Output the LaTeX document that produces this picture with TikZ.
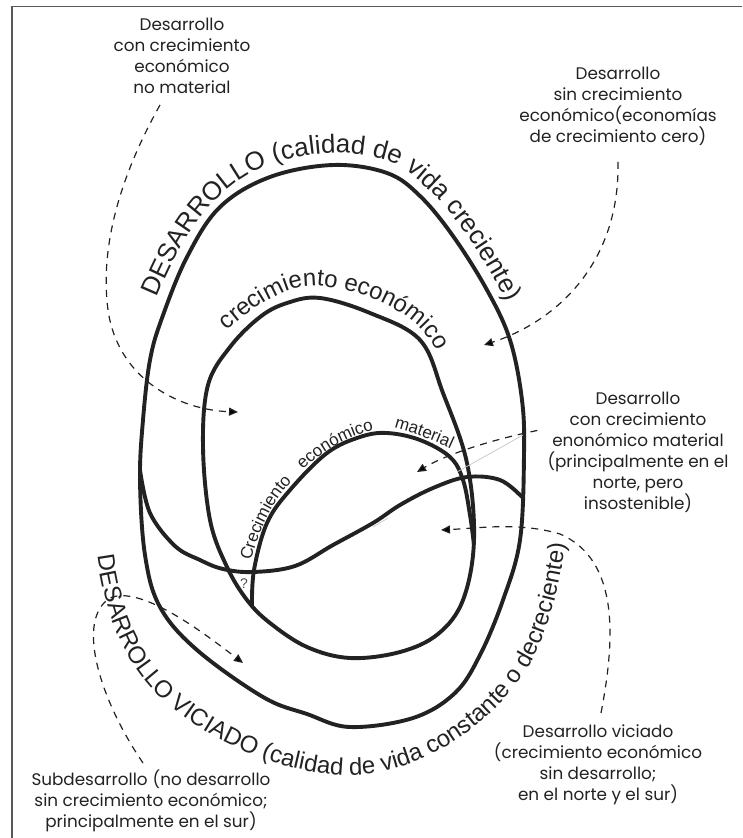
\documentclass[tikz,border=0pt]{standalone}
\usepackage{fontspec}
\usepackage{tikz}
\usetikzlibrary{positioning, arrows.meta, decorations.text}
\setmainfont{Liberation Sans}
\newfontfamily\gothic{Poppins}
\definecolor{ink}{HTML}{222222}

\begin{document}
\begin{tikzpicture}[x=1pt, y=-1pt,
    egg/.style={draw=ink, line width=3.9pt},
    note/.style={align=center, inner sep=0pt, text=ink, font=\gothic\fontsize{16.8}{21}\selectfont},
    leader/.style={draw=ink, line width=1.2pt, dash pattern=on 7pt off 6pt, -{Triangle[length=9pt, width=8pt]}},
    curved/.style={decorate, decoration={text along path, text color=ink, text align=center, text={#1}}},
    curvedleft/.style={decorate, decoration={text along path, text color=ink, text={#1}}}]
    \useasboundingbox (0,0) rectangle (742,838);
    \draw[gray!70!black, line width=1.5pt] (12,838) -- (12,6.5) -- (742,6.5);

    % outer egg, middle egg, inner egg and the dividing curve
    \draw[egg] plot[smooth cycle, tension=0.6] coordinates {(333,165) (387,173) (420,196) (453,236) (487,290) (510,340) (522,400) (524,455) (520,540) (503,600) (480,655) (455,693) (413,718) (350,727) (307,714) (263,697) (197,650) (160,607) (145,555) (140,480) (143,420) (150,360) (162,318) (187,257) (220,207) (270,177)};
    \draw[egg] plot[smooth cycle, tension=0.6] coordinates {(320,298) (370,313) (420,340) (443,393) (467,463) (474,540) (463,600) (438,634) (400,652) (350,658) (307,647) (270,623) (247,600) (227,567) (210,520) (203,447) (208,385) (230,347) (260,317) (287,303)};
    \draw[egg] plot[smooth, tension=0.6] coordinates {(252,607) (254,570) (267,523) (290,490) (327,453) (360,437) (387,433) (420,440) (450,457) (463,480) (470,515) (474,545)};
    \draw[egg] plot[smooth, tension=0.6] coordinates {(140,470) (150,513) (175,546) (200,560) (223,569) (253,572) (295,566) (333,545) (373,523) (400,505) (433,488) (467,477) (500,480) (522,497)};
    \draw[gray!45, line width=0.7pt] (373,527) -- (388,518);
    \draw[gray!45, line width=0.7pt] (457,472) -- (523,435);
    \node[text=ink!80, font=\fontsize{14}{14}\selectfont] (qm) at (244,584) {?};

    \path[curved={|\fontsize{26}{30}\selectfont|DESARROLLO (calidad de vida creciente)}]
        (156,300) .. controls (179,245) and (210,187) .. (266,166)
        .. controls (305,151) and (351,148) .. (391,162)
        .. controls (428,177) and (478,242) .. (508,305);
    \path[curved={|\fontsize{24}{30}\selectfont|crecimiento económico}]
        (224,333) .. controls (251,310) and (285,282) .. (321,286)
        .. controls (366,291) and (422,313) .. (438,355);
    \path[curvedleft={|\fontsize{17}{20}\selectfont|Crecimiento}]
        (251,561) .. controls (259,531) and (272,501) .. (294,479);
    \path[curvedleft={|\fontsize{17}{20}\selectfont|económico}]
        (303,470) .. controls (325,448) and (356,432) .. (387,428);
    \path[curvedleft={|\fontsize{17}{20}\selectfont|material}]
        (394,428) .. controls (416,434) and (437,442) .. (458,452);
    \path[curved={|\fontsize{24}{30}\selectfont|DESARROLLO VICIADO (calidad de vida constante o decreciente)}]
        (96,545) .. controls (104,614) and (124,672) .. (180,714)
        .. controls (227,749) and (286,773) .. (345,775)
        .. controls (405,777) and (468,741) .. (508,695)
        .. controls (546,652) and (561,590) .. (566,533);

    \node[note, anchor=north] (nm) at (182,18) {Desarrollo\\con crecimiento\\económico\\no material};
    \node[note, anchor=north] (sc) at (618,67) {Desarrollo\\sin crecimiento\\económico(economías\\de crecimiento cero)};
    \node[note, anchor=north] (cm) at (638,392) {Desarrollo\\con crecimiento\\enonómico material\\(principalmente en el\\norte, pero\\insostenible)};
    \node[note, anchor=north] (dv) at (598,725) {Desarrollo viciado\\(crecimiento económico\\sin desarrollo;\\en el norte y el sur)};
    \node[note, anchor=north] (sd) at (151,770) {Subdesarrollo\hspace{5pt}(no desarrollo\\sin crecimiento económico;\\principalmente en el sur)};

    \coordinate (tipnm) at (238,412);
    \coordinate (tipsc) at (484,345);
    \coordinate (tipcm) at (417,472);
    \coordinate (tipdv) at (441,530);
    \coordinate (tipsd) at (243,663);
    \draw[leader] ([xshift=-22pt, yshift=-11pt]nm.south) .. controls (118,180) and (100,250) .. (108,310) .. controls (118,380) and (180,410) .. (tipnm);
    \draw[leader] ([yshift=-16pt]sc.south) .. controls (620,260) and (560,320) .. (tipsc);
    \draw[leader] ([xshift=-10pt, yshift=22pt]cm.west) .. controls (490,440) and (445,455) .. (tipcm);
    \draw[leader] ([xshift=3pt, yshift=12pt]dv.north) .. controls (615,640) and (620,560) .. (560,534) .. controls (520,522) and (480,528) .. (tipdv);
    \draw[leader] ([xshift=-8pt, yshift=7pt]sd.north) .. controls (100,700) and (75,620) .. (110,598) .. controls (140,585) and (200,630) .. (tipsd);
\end{tikzpicture}
\end{document}
